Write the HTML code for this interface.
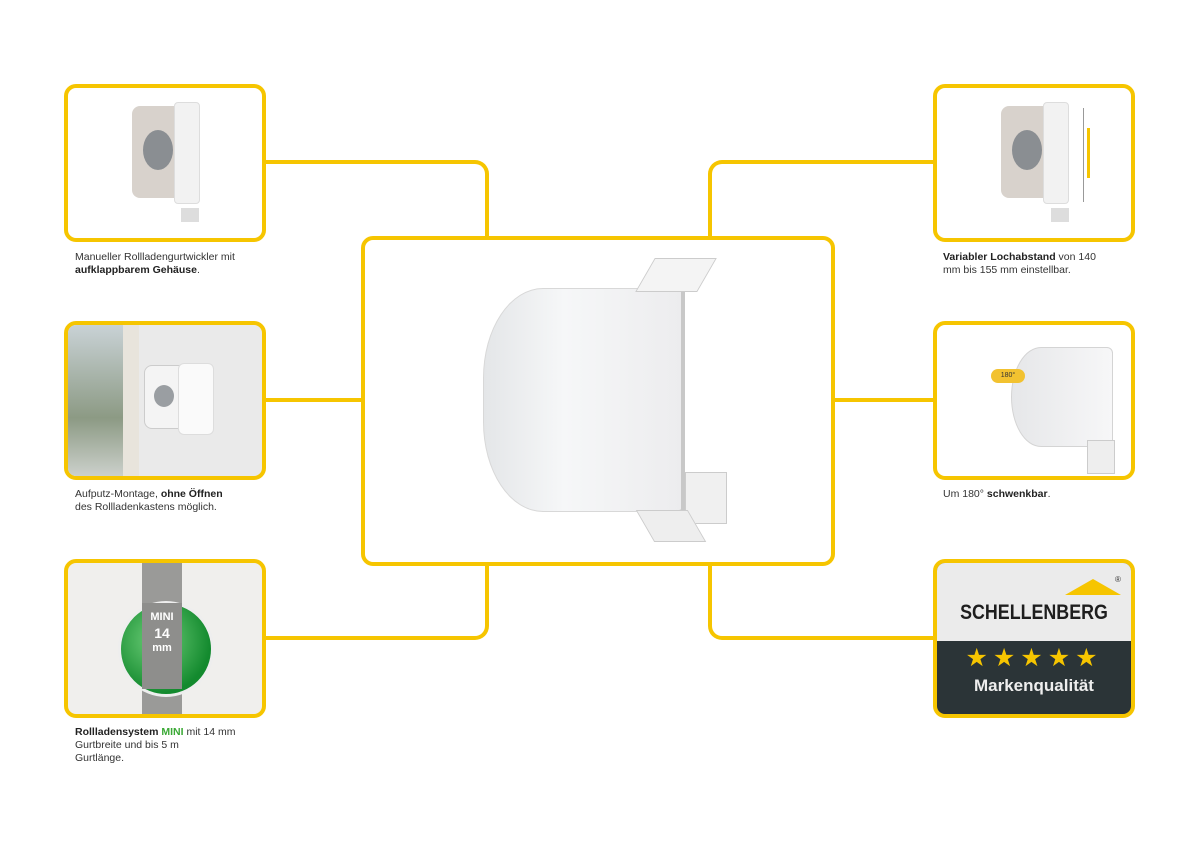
<!DOCTYPE html>
<html><head><meta charset="utf-8"><style>
body{margin:0;width:1200px;height:848px;background:#fff;position:relative;overflow:hidden;font-family:"Liberation Sans",sans-serif}
.b{position:absolute;border:4px solid #f6c500;border-radius:12px;box-sizing:border-box;background:#fff;overflow:hidden}
.l{position:absolute;border-color:#f6c500;border-style:solid;border-width:0;box-sizing:border-box}
.t{position:absolute;font-size:10.5px;line-height:13px;color:#333}
.t b{color:#222}
</style></head><body>
<div class="l" style="left:262px;top:160px;width:227px;height:80px;border-top-width:4px;border-right-width:4px;border-top-right-radius:14px"></div>
<div class="l" style="left:262px;top:398px;width:102px;height:4px;border-top-width:4px"></div>
<div class="l" style="left:262px;top:562px;width:227px;height:78px;border-bottom-width:4px;border-right-width:4px;border-bottom-right-radius:14px"></div>
<div class="l" style="left:708px;top:160px;width:228px;height:80px;border-top-width:4px;border-left-width:4px;border-top-left-radius:14px"></div>
<div class="l" style="left:832px;top:398px;width:104px;height:4px;border-top-width:4px"></div>
<div class="l" style="left:708px;top:562px;width:228px;height:78px;border-bottom-width:4px;border-left-width:4px;border-bottom-left-radius:14px"></div>

<div class="b" style="left:64px;top:84px;width:202px;height:158px">
 <div style="position:absolute;left:64px;top:18px;width:50px;height:92px;background:#d8d2cc;border-radius:8px"></div>
 <div style="position:absolute;left:75px;top:42px;width:30px;height:40px;background:#8a8e92;border-radius:50%"></div>
 <div style="position:absolute;left:106px;top:14px;width:24px;height:100px;background:#f2f2f2;border:1px solid #ddd;border-radius:4px"></div>
 <div style="position:absolute;left:113px;top:120px;width:18px;height:14px;background:#ddd"></div>
</div>
<div class="t" style="left:75px;top:251px">Manueller Rollladengurtwickler mit<br><b>aufklappbarem Gehäuse</b>.</div>

<div class="b" style="left:64px;top:321px;width:202px;height:159px;background:#eaeaea">
 <div style="position:absolute;left:0;top:0;width:55px;height:155px;background:linear-gradient(#c9d2d6,#8c9a84 60%,#d0d4d0)"></div>
 <div style="position:absolute;left:55px;top:0;width:16px;height:155px;background:#e8e4dc"></div>
 <div style="position:absolute;left:76px;top:40px;width:40px;height:62px;background:#f4f4f4;border-radius:8px;border:1px solid #ccc"></div>
 <div style="position:absolute;left:86px;top:60px;width:20px;height:22px;background:#9a9ea2;border-radius:50%"></div>
 <div style="position:absolute;left:110px;top:38px;width:34px;height:70px;background:#fafafa;border-radius:6px;border:1px solid #ddd"></div>
</div>
<div class="t" style="left:75px;top:488px">Aufputz-Montage, <b>ohne Öffnen</b><br>des Rollladenkastens möglich.</div>

<div class="b" style="left:64px;top:559px;width:202px;height:159px;background:#f0efed">
 <div style="position:absolute;left:74px;top:0;width:40px;height:155px;background:#9a9a98"></div>
 <div style="position:absolute;left:50px;top:38px;width:90px;height:90px;border-radius:50%;background:radial-gradient(circle at 40% 40%,#6fcf7a,#138a2e 70%);border:3px solid #eee"></div>
 <div style="position:absolute;left:74px;top:40px;width:40px;height:86px;background:#8e8e8c"></div>
 <div style="position:absolute;left:74px;top:48px;width:40px;text-align:center;font-weight:bold;color:#fff;font-size:11px;line-height:13px">MINI<br><span style="font-size:14px;line-height:18px">14</span><br>mm</div>
</div>
<div class="t" style="left:75px;top:726px"><b>Rollladensystem <span style="color:#3aa935">MINI</span></b> mit 14 mm<br>Gurtbreite und bis 5 m<br>Gurtlänge.</div>

<div class="b" style="left:361px;top:236px;width:474px;height:330px">
 <div style="position:absolute;left:118px;top:48px;width:200px;height:222px;background:linear-gradient(90deg,#e4e6e8,#f6f7f8 40%,#ececee);border-radius:60px 10px 10px 60px/90px 10px 10px 90px;border:1px solid #d8d8d8"></div>
 <div style="position:absolute;left:316px;top:46px;width:4px;height:226px;background:#c8c8c8"></div>
 <div style="position:absolute;left:280px;top:18px;width:60px;height:32px;background:#f4f4f4;border:1px solid #ccc;transform:skewX(-30deg)"></div>
 <div style="position:absolute;left:320px;top:232px;width:40px;height:50px;background:#f0f0f0;border:1px solid #ccc"></div>
 <div style="position:absolute;left:280px;top:270px;width:50px;height:30px;background:#eee;border:1px solid #ccc;transform:skewX(30deg)"></div>
</div>

<div class="b" style="left:933px;top:84px;width:202px;height:158px">
 <div style="position:absolute;left:64px;top:18px;width:50px;height:92px;background:#d8d2cc;border-radius:8px"></div>
 <div style="position:absolute;left:75px;top:42px;width:30px;height:40px;background:#8a8e92;border-radius:50%"></div>
 <div style="position:absolute;left:106px;top:14px;width:24px;height:100px;background:#f2f2f2;border:1px solid #ddd;border-radius:4px"></div>
 <div style="position:absolute;left:114px;top:120px;width:18px;height:14px;background:#ddd"></div>
 <div style="position:absolute;left:146px;top:20px;width:4px;height:94px;border-left:1px solid #999"></div>
 <div style="position:absolute;left:150px;top:40px;width:3px;height:50px;background:#f6c500"></div>
</div>
<div class="t" style="left:943px;top:251px"><b>Variabler Lochabstand</b> von 140<br>mm bis 155 mm einstellbar.</div>

<div class="b" style="left:933px;top:321px;width:202px;height:159px">
 <div style="position:absolute;left:74px;top:22px;width:100px;height:98px;background:linear-gradient(90deg,#e6e7e9,#f7f7f8);border-radius:30px 6px 6px 30px/50px 6px 6px 50px;border:1px solid #d4d4d4"></div>
 <div style="position:absolute;left:54px;top:44px;width:34px;height:14px;background:#f2c230;border-radius:7px;font-size:7px;line-height:14px;text-align:center;color:#333">180°</div>
 <div style="position:absolute;left:150px;top:115px;width:26px;height:32px;background:#eee;border:1px solid #ccc"></div>
</div>
<div class="t" style="left:943px;top:488px">Um 180° <b>schwenkbar</b>.</div>

<div class="b" style="left:933px;top:559px;width:202px;height:159px;background:#2b3437">
 <div style="position:absolute;left:0;top:0;width:194px;height:78px;background:#ebebeb"></div>
 <div style="position:absolute;left:128px;top:16px;width:0;height:0;border-left:28px solid transparent;border-right:28px solid transparent;border-bottom:16px solid #f6c500"></div>
 <div style="position:absolute;left:178px;top:12px;font-size:8px;color:#333">®</div>
 <div style="position:absolute;left:0;top:38px;width:194px;text-align:center;font-weight:bold;font-size:21px;color:#1e1e1e;transform:scaleX(0.85)">SCHELLENBERG</div>
 <div style="position:absolute;left:0;top:80px;width:194px;text-align:center;font-size:25px;letter-spacing:5px;color:#f6c500">★★★★★</div>
 <div style="position:absolute;left:0;top:113px;width:194px;text-align:center;font-weight:bold;font-size:17px;color:#eee">Markenqualität</div>
</div>
</body></html>
